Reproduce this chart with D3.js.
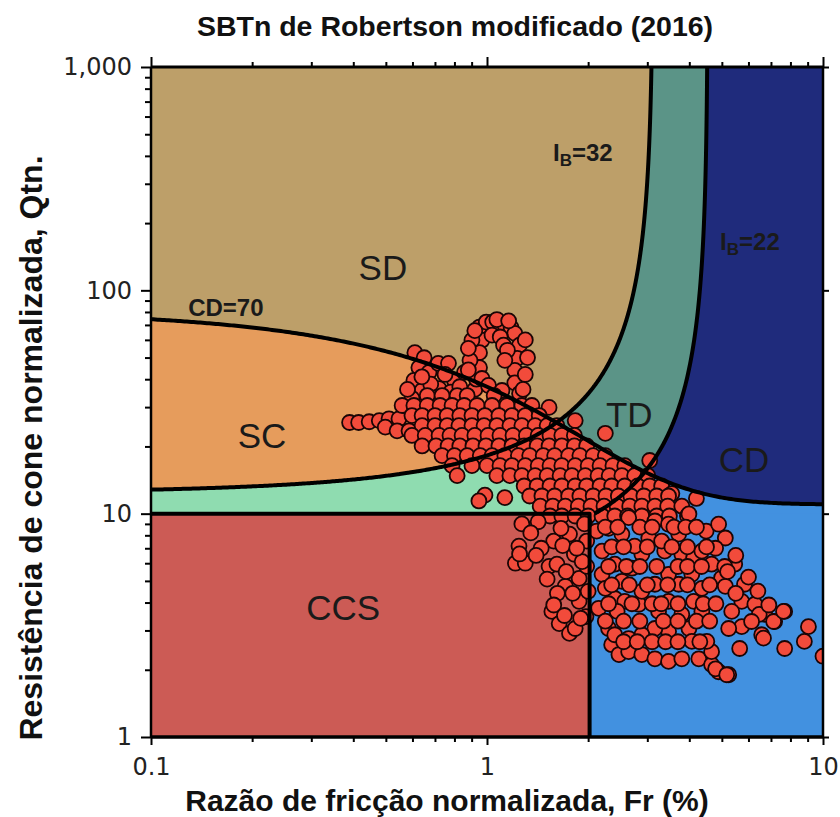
<!DOCTYPE html>
<html><head><meta charset="utf-8">
<script src="https://cdn.jsdelivr.net/npm/d3@7"></script>
<style>body{margin:0;background:#fff}</style>
</head><body>
<script>
// ---------------- data ----------------
const titleText = "SBTn de Robertson modificado (2016)";
const xTitle = "Razão de fricção normalizada, Fr (%)";
const yTitle = "Resistência de cone normalizada, Qtn.";
const xMajor = [0.1, 1, 10];
const xMajorLabels = ["0.1", "1", "10"];
const yMajor = [1, 10, 100, 1000];
const yMajorLabels = ["1", "10", "100", "1,000"];
const minorSteps = [2, 3, 4, 5, 6, 7, 8, 9];
const cdValue = 70;          // CD = 70 boundary
const ibValues = [32, 22];   // IB = 32, IB = 22 boundaries
const ccsQtn = 10;           // CCS upper limit
const ccsFr = 2.02;          // CCS right limit
const zoneNames = ["SD", "SC", "TD", "CD", "CCS"];

// CPT points [Fr (%), Qtn]
const points = [
  // left tail
  [0.39,25.6],[0.415,25.6],[0.446,25.8],[0.478,26.1],[0.511,26.6],[0.547,26.6],[0.498,24.4],[0.54,23.5],[0.586,23.5],
  // upper-left blob
  [0.61,52.6],[0.65,49.9],[0.627,45.1],[0.606,39.5],[0.641,35.6],[0.672,42.9],[0.716,47.1],[0.768,47.1],[0.598,32.8],[0.662,32.1],[0.72,36.3],[0.80,39.5],[0.857,42.9],
  [0.68,38],[0.75,42],[0.70,33],[0.78,35],[0.83,37],[0.86,33],[0.92,36],[0.93,40],[0.64,41],[0.58,36],
  // loop
  [0.95,68.5],[0.995,72.1],[1.04,72.1],[1.09,71.4],[1.13,70],[1.18,68],[1.21,64.2],[1.25,56.8],[1.23,49.6],[1.21,43.8],[1.21,38.5],[1.25,34.5],
  [0.966,59.8],[0.95,52.6],[0.95,45.1],[0.966,40.3],[1.01,37.5],[1.035,63],[1.095,61.8],[1.12,56.8],[1.15,53.9],[1.13,48.6],[0.902,59.8],[0.89,48.6],[1.108,35.6],
  [0.88,55],[0.88,44],[0.92,66],[1.30,60],[1.32,50],[1.30,42],[1.28,36],[1.07,74],[1.16,73],
  // dense band
  [0.664,33.8],[0.735,33.8],[0.815,33.8],[0.873,33.8],[1.05,33.8],
  [0.559,30.5],[0.606,30.5],[0.664,30.5],[0.725,30.5],[0.787,30.5],[0.855,30.5],[0.934,30.5],[1.035,30.5],[1.147,30.5],[1.27,30.5],[1.36,30.5],[1.53,29.9],
  [0.598,27.5],[0.641,27.5],[0.70,27.5],[0.761,27.5],[0.83,27.5],[0.902,27.5],[0.986,27.5],[1.085,27.5],[1.187,27.5],[1.30,27.5],[1.43,27.5],[1.83,26.1],
  [0.641,24.8],[0.70,24.8],[0.761,24.8],[0.825,24.8],[0.902,24.8],[0.98,24.8],[1.07,24.8],[1.17,24.8],[1.27,24.8],[1.39,24.8],[1.51,24.8],[1.615,24.8],
  [0.598,22.4],[0.655,22.4],[0.72,22.4],[0.776,22.4],[0.843,22.4],[0.92,22.4],[1.007,22.4],[1.093,22.4],[1.195,22.4],[1.31,22.4],[1.42,22.4],[1.54,22.4],[1.67,22.4],[1.82,22.4],[2.25,22.9],
  [0.641,20.1],[0.705,20.1],[0.766,20.1],[0.83,20.1],[0.908,20.1],[0.993,20.1],[1.085,20.1],[1.187,20.1],[1.29,20.1],[1.41,20.1],[1.53,20.1],[1.67,20.1],[1.82,20.1],[1.98,20.1],
  [0.735,18.2],[0.80,18.2],[0.873,18.2],[0.955,18.2],[1.035,18.2],[1.13,18.2],[1.24,18.2],[1.34,18.2],[1.47,18.2],[1.59,18.2],[1.75,18.2],[1.89,18.2],[2.07,18.2],[2.25,18.2],[3.05,17.3],
  [0.787,16.4],[0.902,16.4],[1.0,16.4],[1.093,16.4],[1.187,16.4],[1.30,16.4],[1.42,16.4],[1.54,16.4],[1.67,16.4],[1.83,16.4],[2.0,16.4],[2.17,16.4],[2.37,16.4],[2.57,16.4],
  [0.815,14.8],[1.07,14.8],[1.17,14.8],[1.27,14.8],[1.39,14.8],[1.51,14.8],[1.65,14.8],[1.79,14.8],[1.96,14.8],[2.14,14.8],[2.31,14.8],[2.52,14.8],[2.75,14.8],[3.01,14.8],
  [1.29,13.3],[1.41,13.3],[1.54,13.3],[1.67,13.3],[1.83,13.3],[1.98,13.3],[2.17,13.3],[2.35,13.3],[2.57,13.3],[2.81,13.3],[3.05,13.3],[3.31,13.3],
  [0.986,12.1],[0.946,11.4],[1.13,11.8],[3.55,12.3],[4.2,11.7],
  [1.34,12.0],[1.457,12.0],[1.59,12.0],[1.75,12.0],[1.89,12.0],[2.07,12.0],[2.26,12.0],[2.46,12.0],[2.68,12.0],[2.93,12.0],[3.20,12.0],[3.47,12.0],
  [1.44,10.8],[1.57,10.8],[1.71,10.8],[1.87,10.8],[2.04,10.8],[2.23,10.8],[2.44,10.8],[2.66,10.8],[2.89,10.8],[3.16,10.8],[3.45,10.8],[3.80,10.8],
  [1.54,9.76],[1.67,9.76],[1.83,9.76],[2.0,9.76],[2.20,9.76],[2.40,9.76],[2.62,9.76],[2.89,9.76],[3.20,9.76],[3.49,9.76],[3.95,9.76],
  // CCS zone
  [1.27,9.0],[1.42,9.2],[1.76,8.1],[1.58,7.54],[1.245,7.16],[1.215,6.0],[1.30,6.0],[1.53,5.81],[1.615,5.94],[1.82,6.58],[1.51,5.09],[1.71,4.73],
  [1.88,5.13],[1.88,4.05],[1.56,3.65],[1.64,3.22],[1.76,2.91],[1.83,3.06],[1.98,7.54],[1.98,5.81],[2.0,4.49],[1.97,3.46],
  [1.35,8.2],[1.45,7.0],[1.68,7.2],[1.40,6.5],[1.72,5.5],[1.62,4.4],[1.80,4.4],[1.92,6.1],[1.66,8.6],[1.25,6.6],[1.58,3.9],[1.90,3.4],[1.70,3.5],[1.95,9.0],[1.85,7.0],
  // CC zone
  [2.20,6.80],[2.20,5.35],[2.15,3.77],[2.30,3.06],[2.35,2.59],[2.47,2.34],[2.64,2.41],[2.89,2.34],[3.16,2.24],[3.47,2.18],[3.80,2.24],[4.27,2.24],
  [4.66,2.11],[4.89,1.96],[5.24,1.90],[2.40,4.17],[2.57,4.05],[2.83,3.93],[2.52,4.98],[2.70,5.70],[2.89,6.58],[3.03,7.78],[3.16,9.27],[3.47,8.97],
  [3.72,8.10],[3.99,9.97],[4.49,8.36],[4.89,8.97],[5.12,7.78],[4.79,7.0],[4.66,5.94],[4.99,5.15],[5.46,5.94],[5.84,4.83],[5.73,4.05],[6.27,3.93],
  [6.71,3.54],[7.18,3.29],[7.69,3.65],[6.57,2.87],[5.65,2.49],[7.69,2.49],[8.8,2.68],[9.05,3.12],[10.0,2.3],[5.12,4.73],[6.46,3.54],[7.13,3.29],
  [7.63,3.65],[6.65,2.77],[5.73,3.12],[5.24,3.06],[4.66,2.41],[4.79,2.02],[5.17,1.90],
  [3.47,4.05],[3.80,3.54],[3.99,3.06],[3.47,2.97],[3.16,3.06],[2.89,2.87],[2.64,2.76],[2.40,2.87],[3.24,3.65],[3.72,4.83],[4.12,4.05],[4.36,4.63],
  [4.07,5.35],[3.47,5.35],[3.16,4.83],[2.89,4.49],[3.38,6.80],[3.80,6.58],[4.12,6.33],[2.52,8.10],[2.64,9.6],[2.30,8.6],[2.40,5.94],[2.25,4.63],
  [2.75,7.16],[3.31,7.54],[2.44,3.65],[4.36,3.65],[4.51,2.68],[4.07,2.68],[2.12,8.36],[4.36,6.8],[6.13,3.29],[5.35,3.65],
  [2.25,8.7],[2.45,8.7],[2.85,8.7],[3.10,8.7],[3.60,8.7],[3.90,8.7],[4.20,8.7],
  [2.35,7.1],[2.55,7.1],[3.00,7.1],[3.55,7.1],[3.95,7.1],[4.50,7.1],
  [2.30,5.8],[2.60,5.8],[2.85,5.8],[3.20,5.8],[3.70,5.8],[3.95,5.8],[4.35,5.8],[5.10,5.8],
  [2.35,4.8],[2.65,4.8],[3.00,4.8],[3.45,4.8],[3.95,4.8],[4.60,4.8],
  [2.30,3.95],[2.70,3.95],[3.10,3.95],[3.30,3.95],[3.70,3.95],[4.40,3.95],[4.80,3.95],
  [2.25,3.3],[2.55,3.3],[2.85,3.3],[3.35,3.3],[3.70,3.3],[4.20,3.3],[4.60,3.3],
  [2.55,2.67],[2.80,2.67],[3.10,2.67],[3.40,2.67],[3.70,2.67],[4.30,2.67],
  [5.5,6.5],[6.0,5.2],[6.4,4.5],[5.2,5.5],[5.5,4.4],[6.9,3.9]
];

// ---------------- drawing ----------------
const W = 840, H = 817, L = 151, R = 823, T = 67, B = 737;
const svg = d3.select("body").append("svg").attr("width", W).attr("height", H)
  .style("font-family", "'Liberation Sans', Arial, sans-serif");
const x = d3.scaleLog().domain([0.1, 10]).range([L, R]);
const y = d3.scaleLog().domain([1, 1000]).range([B, T]);
const defs = svg.append("defs");
defs.append("clipPath").attr("id", "plotClip").append("rect")
  .attr("x", L).attr("y", T).attr("width", R - L).attr("height", B - T);

const logGrid = (a, b, n) => d3.range(n + 1).map(i => a * Math.pow(b / a, i / n));
const qCD = f => 11 + cdValue / Math.pow(1 + 0.06 * f, 17);
const qIB = (ib, f) => (70 * ib - 1000) / (100 - ib * f);
const fIB = (ib, q) => (100 - (70 * ib - 1000) / q) / ib;
const line = d3.line().x(d => x(d[0])).y(d => y(d[1]));

function ibPts(ib, qLo) {
  const f0 = Math.max(0.1, fIB(ib, qLo)), f1 = fIB(ib, 1000);
  const q0 = qIB(ib, f0);
  let fs = logGrid(f0, f1, 300).concat(logGrid(q0, 1000, 300).map(q => fIB(ib, q)));
  fs = fs.filter(f => f >= f0 && f <= f1).sort((a, b) => a - b);
  return fs.map(f => [f, Math.min(1000, qIB(ib, f))]);
}
function leftOf(ib) {
  return [[0.1, 1000]].concat(ibPts(ib, 1), [[fIB(ib, 1000), 1000]]);
}
const cdPts = logGrid(0.1, 10, 300).map(f => [f, qCD(f)]);

const C = {navy: "#1F2B7C", teal: "#5B9487", tan: "#BD9F69", green: "#8FDCB0",
           orange: "#E69C5C", blue: "#4291E0", red: "#CC5B55"};

const plot = svg.append("g").attr("clip-path", "url(#plotClip)");
plot.append("rect").attr("x", L).attr("y", T).attr("width", R - L).attr("height", B - T).attr("fill", C.navy);
plot.append("path").attr("d", line(leftOf(ibValues[1])) + "Z").attr("fill", C.teal);
plot.append("path").attr("d", line(leftOf(ibValues[0])) + "Z").attr("fill", C.tan);

defs.append("clipPath").attr("id", "belowCD").append("path")
  .attr("d", line(cdPts.concat([[10, 1], [0.1, 1]])) + "Z");
const below = plot.append("g").attr("clip-path", "url(#belowCD)");
below.append("rect").attr("x", L).attr("y", T).attr("width", R - L).attr("height", B - T).attr("fill", C.blue);
below.append("path").attr("d", line(leftOf(ibValues[1])) + "Z").attr("fill", C.green);
below.append("path").attr("d", line(leftOf(ibValues[0])) + "Z").attr("fill", C.orange);

plot.append("rect").attr("x", x(ccsFr)).attr("y", y(ccsQtn))
  .attr("width", x(10) - x(ccsFr)).attr("height", y(1) - y(ccsQtn)).attr("fill", C.blue);
plot.append("rect").attr("x", x(0.1)).attr("y", y(ccsQtn))
  .attr("width", x(ccsFr) - x(0.1)).attr("height", y(1) - y(ccsQtn)).attr("fill", C.red);

// points
plot.append("g").selectAll("circle").data(points).join("circle")
  .attr("cx", d => x(d[0])).attr("cy", d => y(d[1])).attr("r", 7.5)
  .attr("fill", "#F24B3B").attr("stroke", "#1a0505").attr("stroke-width", 1.8);

// boundary lines (drawn over the points)
const lines = plot.append("g").attr("fill", "none").attr("stroke", "#000")
  .attr("stroke-width", 4).attr("stroke-linejoin", "round");
lines.append("path").attr("d", line(cdPts));
lines.append("path").attr("d", line(ibPts(ibValues[0], 1)));
lines.append("path").attr("d", line(ibPts(ibValues[1], ccsQtn)));
lines.append("path").attr("d", line([[0.1, ccsQtn], [ccsFr, ccsQtn], [ccsFr, 1]]));

// zone labels
const zoneAt = [[0.49, 126], [0.214, 22.3], [2.65, 27.7], [5.82, 17.4], [0.373, 3.82]];
svg.append("g").selectAll("text").data(zoneNames).join("text")
  .attr("x", (d, i) => x(zoneAt[i][0])).attr("y", (d, i) => y(zoneAt[i][1]))
  .attr("text-anchor", "middle").attr("dominant-baseline", "central")
  .attr("font-size", 35).attr("fill", "#1a1a1a").text(d => d);

svg.append("text").attr("x", x(0.129)).attr("y", y(76.8)).attr("font-size", 24)
  .attr("font-weight", "bold").attr("fill", "#1a1a1a").text("CD=" + cdValue);
function ibLabel(f, q, v) {
  const t = svg.append("text").attr("x", x(f)).attr("y", y(q)).attr("font-size", 24)
    .attr("font-weight", "bold").attr("fill", "#1a1a1a");
  t.append("tspan").text("I");
  t.append("tspan").attr("font-size", 17).attr("dy", 5).text("B");
  t.append("tspan").attr("dy", -5).text("=" + v);
}
ibLabel(1.572, 380, ibValues[0]);
ibLabel(4.94, 151.7, ibValues[1]);

// frame
const frame = svg.append("g").attr("stroke", "#000");
frame.append("line").attr("x1", L).attr("x2", R).attr("y1", T).attr("y2", T).attr("stroke-width", 3);
frame.append("line").attr("x1", L).attr("x2", R + 1).attr("y1", B).attr("y2", B).attr("stroke-width", 3.5);
frame.append("line").attr("x1", L).attr("x2", L).attr("y1", T).attr("y2", B).attr("stroke-width", 2.5);
frame.append("line").attr("x1", R).attr("x2", R).attr("y1", T).attr("y2", B).attr("stroke-width", 2.5);

// axes
const yMinor = [], xMinor = [];
yMajor.slice(0, -1).forEach(m => minorSteps.forEach(s => yMinor.push(m * s)));
xMajor.slice(0, -1).forEach(m => minorSteps.forEach(s => xMinor.push(m * s)));

function styleAxis(g, w) {
  g.select(".domain").remove();
  g.selectAll(".tick line").attr("stroke", "#000").attr("stroke-width", w);
  g.selectAll("text").attr("font-family", "'DejaVu Sans', Verdana, sans-serif")
    .attr("font-size", 24).attr("fill", "#222");
}
svg.append("g").attr("transform", `translate(${L},0)`)
  .call(d3.axisLeft(y).tickValues(yMajor).tickSize(10).tickPadding(9).tickFormat((d, i) => yMajorLabels[i]))
  .call(g => styleAxis(g, 2));
svg.append("g").attr("transform", `translate(${L},0)`)
  .call(d3.axisLeft(y).tickValues(yMinor).tickSize(6).tickFormat(""))
  .call(g => styleAxis(g, 2));
svg.append("g").attr("transform", `translate(0,${B})`)
  .call(d3.axisBottom(x).tickValues(xMajor).tickSize(8).tickPadding(13).tickFormat((d, i) => xMajorLabels[i]))
  .call(g => styleAxis(g, 2));
svg.append("g").attr("transform", `translate(0,${B})`)
  .call(d3.axisBottom(x).tickValues(xMinor).tickSize(5).tickFormat(""))
  .call(g => styleAxis(g, 2));
svg.append("g").attr("transform", `translate(0,${T})`)
  .call(d3.axisTop(x).tickValues(xMajor).tickSize(10).tickFormat(""))
  .call(g => styleAxis(g, 2));
svg.append("g").attr("transform", `translate(0,${T})`)
  .call(d3.axisTop(x).tickValues(xMinor).tickSize(5).tickFormat(""))
  .call(g => styleAxis(g, 2));
svg.append("g").attr("transform", `translate(${R},0)`)
  .call(d3.axisRight(y).tickValues(yMajor).tickSize(6).tickFormat(""))
  .call(g => styleAxis(g, 2));

// titles
svg.append("text").attr("x", 455).attr("y", 36).attr("text-anchor", "middle")
  .attr("font-size", 28.5).attr("font-weight", "bold").attr("fill", "#111").text(titleText);
svg.append("text").attr("x", 447).attr("y", 811).attr("text-anchor", "middle")
  .attr("font-size", 30).attr("font-weight", "bold").attr("fill", "#111").text(xTitle);
svg.append("text").attr("transform", "translate(42,448) rotate(-90)").attr("text-anchor", "middle")
  .attr("font-size", 32).attr("font-weight", "bold").attr("fill", "#111").text(yTitle);
</script>
</body></html>
